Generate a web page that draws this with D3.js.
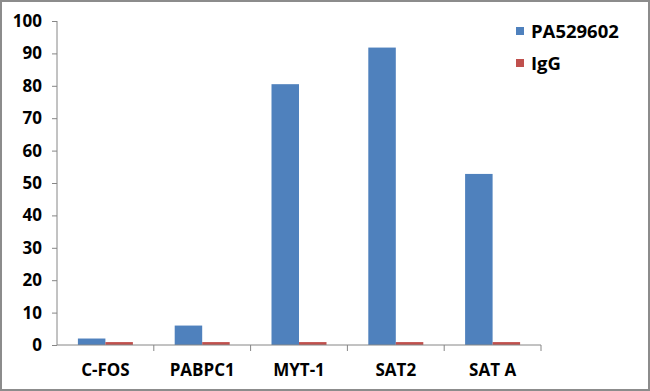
<!DOCTYPE html>
<html><head><meta charset="utf-8">
<script src="https://cdn.jsdelivr.net/npm/d3@7"></script>
<style>html,body{margin:0;padding:0;background:#fff;}svg{display:block;}</style>
</head><body>
<script>
const categories = ["C-FOS", "PABPC1", "MYT-1", "SAT2", "SAT A"];
const seriesNames = ["PA529602", "IgG"];
const pa529602 = [2.0, 6.0, 80.5, 91.8, 52.8];
const igg = [0.9, 0.9, 0.9, 0.9, 0.9];
const yTicks = [0, 10, 20, 30, 40, 50, 60, 70, 80, 90, 100];
const colors = ["#4F81BD", "#C0504D"];

const W = 650, H = 391;
const svg = d3.select("body").append("svg").attr("width", W).attr("height", H);
svg.append("rect").attr("x", 1).attr("y", 1).attr("width", W - 2).attr("height", H - 2)
  .attr("fill", "#fff").attr("stroke", "#8c8c8c").attr("stroke-width", 2);

const font = "'Open Sans', sans-serif";
const x0 = d3.scaleBand().domain(categories).range([57, 541]).paddingInner(0).paddingOuter(0);
const x1 = d3.scaleBand().domain(seriesNames).range([0, x0.bandwidth()]).paddingInner(0).paddingOuter(0.76);
const y = d3.scaleLinear().domain([0, 100]).range([345, 21]);

const data = [pa529602, igg];
const g = svg.append("g");
categories.forEach((c, i) => {
  seriesNames.forEach((s, j) => {
    g.append("rect")
      .attr("x", x0(c) + x1(s))
      .attr("y", y(data[j][i]))
      .attr("width", x1.bandwidth())
      .attr("height", y(0) - y(data[j][i]))
      .attr("fill", colors[j]);
  });
});

// y axis
const yAxis = svg.append("g").attr("transform", "translate(57,0)")
  .call(d3.axisLeft(y).tickValues(yTicks).tickSize(5).tickPadding(8));
yAxis.select(".domain").attr("stroke", "#868686").attr("d", "M0,21V345");
yAxis.selectAll(".tick line").attr("stroke", "#868686");
yAxis.selectAll("text").attr("font-family", font).attr("font-weight", "bold")
  .attr("font-size", 17).attr("fill", "#000").attr("dx", -2);

// x axis
const xAxis = svg.append("g").attr("transform", "translate(0,345)")
  .call(d3.axisBottom(x0).tickSize(0).tickPadding(19));
xAxis.select(".domain").attr("stroke", "#868686").attr("d", "M57,0H541");
xAxis.selectAll("text").attr("font-family", font).attr("font-weight", "bold")
  .attr("font-size", 17).attr("fill", "#000");
const bounds = categories.map(c => x0(c) + x0.bandwidth());
xAxis.selectAll(".sep").data(bounds).enter().append("line")
  .attr("x1", d => d).attr("x2", d => d).attr("y1", 0).attr("y2", 6)
  .attr("stroke", "#868686");

// legend
const leg = svg.append("g");
seriesNames.forEach((s, j) => {
  const ly = 31 + j * 32;
  leg.append("rect").attr("x", 516).attr("y", ly - 4).attr("width", 8).attr("height", 8).attr("fill", colors[j]);
  leg.append("text").attr("x", 531).attr("y", ly + 7).text(s)
    .attr("font-family", font).attr("font-weight", "bold").attr("font-size", 18.5).attr("fill", "#000");
});
</script>
</body></html>
